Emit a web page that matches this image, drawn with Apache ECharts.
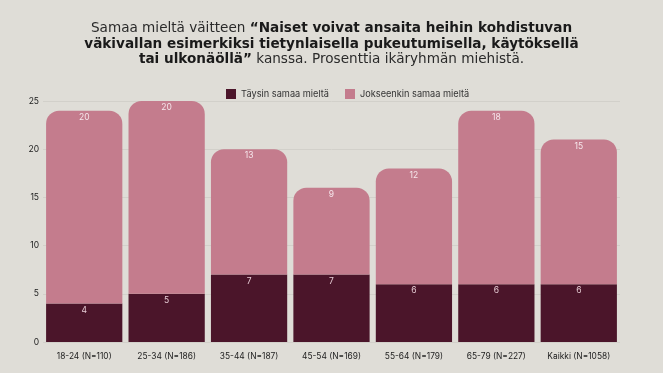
<!DOCTYPE html>
<html><head><meta charset="utf-8">
<script src="https://cdn.jsdelivr.net/npm/echarts@6/dist/echarts.min.js"></script>
<style>html,body{margin:0;padding:0;background:#dfddd7;}#c{width:663px;height:373px;}</style>
</head><body><div id="c"></div>
<script>
const categories = ['18-24 (N=110)','25-34 (N=186)','35-44 (N=187)','45-54 (N=169)','55-64 (N=179)','65-79 (N=227)','Kaikki (N=1058)'];
const taysin = [4,5,7,7,6,6,6];
const jokseenkin = [20,20,13,9,12,18,15];
const seriesNames = ['Täysin samaa mieltä','Jokseenkin samaa mieltä'];
const yTicks = [0,5,10,15,20,25];

const chart = echarts.init(document.getElementById('c'));
const FONT = 'Inter, "Noto Sans", sans-serif';
const TFONT = '"DejaVu Sans", sans-serif';
chart.setOption({
  backgroundColor: '#dfddd7',
  title: {
    left: 'center', top: 16, padding: [5, 17, 5, 5],
    text: '{n|Samaa mieltä väitteen }{b|“Naiset voivat ansaita heihin kohdistuvan}\n{b|väkivallan esimerkiksi tietynlaisella pukeutumisella, käytöksellä}\n{b|tai ulkonäöllä”}{n| kanssa. Prosenttia ikäryhmän miehistä.}',
    textStyle: {
      lineHeight: 15.5,
      rich: {
        n: {fontFamily: TFONT, fontSize: 13.6, fontWeight: 'normal', color: '#2a2a2a', lineHeight: 15.5},
        b: {fontFamily: TFONT, fontSize: 13.6, fontWeight: 'bold', color: '#1a1a1a', lineHeight: 15.5}
      }
    }
  },
  legend: {
    top: 84, left: 221, itemWidth: 10, itemHeight: 10, itemGap: 16,
    icon: 'rect',
    textStyle: {fontFamily: FONT, fontSize: 9.2, color: '#333'},
    data: seriesNames
  },
  grid: {left: 43, right: 43, top: 101, bottom: 31, containLabel: false},
  xAxis: {
    type: 'category', data: categories,
    axisLine: {show: false}, axisTick: {show: false},
    axisLabel: {interval: 0, fontFamily: FONT, fontSize: 8.4, color: '#222', margin: 10}
  },
  yAxis: {
    type: 'value', min: yTicks[0], max: yTicks[yTicks.length-1], interval: 5,
    axisLine: {show: false}, axisTick: {show: false},
    axisLabel: {fontFamily: FONT, fontSize: 8.5, color: '#222', margin: 4},
    splitLine: {lineStyle: {color: '#d2d0ca', width: 1}}
  },
  series: [
    {
      name: seriesNames[0], type: 'bar', stack: 's', data: taysin,
      barCategoryGap: '7.5%',
      itemStyle: {color: '#4b152a'},
      label: {show: true, position: 'insideTop', distance: 2, fontFamily: FONT, fontSize: 8.5, color: '#e6ccd4'}
    },
    {
      name: seriesNames[1], type: 'bar', stack: 's', data: jokseenkin,
      barCategoryGap: '7.5%',
      itemStyle: {color: '#c47c8d', borderRadius: [13,13,0,0]},
      label: {show: true, position: 'insideTop', distance: 2, fontFamily: FONT, fontSize: 8.5, color: '#f6e6eb'}
    }
  ]
});
</script></body></html>
